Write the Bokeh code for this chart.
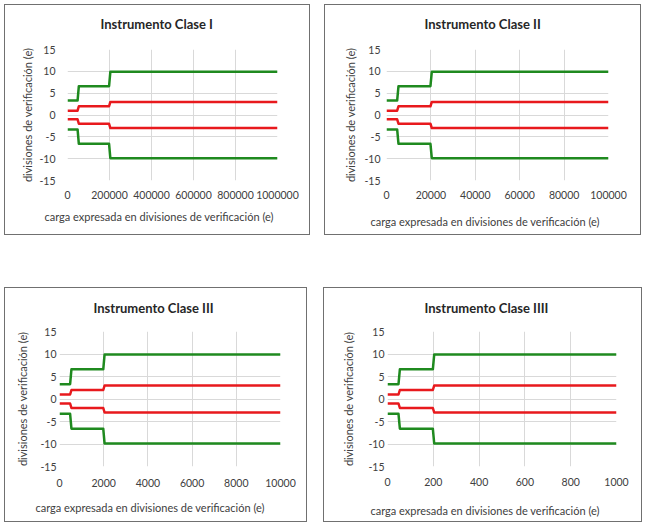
from bokeh.plotting import figure
from bokeh.layouts import column, row
from bokeh.models import Range1d, FixedTicker, Title, LinearAxis
from bokeh.embed import file_html
from bokeh.resources import INLINE

# ---------------- data ----------------
titles = ["Instrumento Clase I", "Instrumento Clase II",
          "Instrumento Clase III", "Instrumento Clase IIII"]

x_max = [1000000, 100000, 10000, 1000]

x_class_I = [0, 48000, 54000, 198000, 204000, 1000000]
x_class_II = [0, 4800, 5400, 19800, 20400, 100000]
x_class_III = [0, 480, 540, 1980, 2040, 10000]
x_class_IIII = [0, 48, 54, 198, 204, 1000]

x_ticks_I = [0, 200000, 400000, 600000, 800000, 1000000]
x_ticks_II = [0, 20000, 40000, 60000, 80000, 100000]
x_ticks_III = [0, 2000, 4000, 6000, 8000, 10000]
x_ticks_IIII = [0, 200, 400, 600, 800, 1000]

x_tick_labels_I = ["0", "200000", "400000", "600000", "800000", "1000000"]
x_tick_labels_II = ["0", "20000", "40000", "60000", "80000", "100000"]
x_tick_labels_III = ["0", "2000", "4000", "6000", "8000", "10000"]
x_tick_labels_IIII = ["0", "200", "400", "600", "800", "1000"]

y_ticks = [-15, -10, -5, 0, 5, 10, 15]
y_tick_labels = ["-15", "-10", "-5", "0", "5", "10", "15"]

green_upper = [3.3, 3.3, 6.6, 6.6, 9.9, 9.9]
red_upper = [1, 1, 2, 2, 3, 3]
red_lower = [-1, -1, -2, -2, -3, -3]
green_lower = [-3.3, -3.3, -6.6, -6.6, -9.9, -9.9]

x_axis_label = "carga expresada en divisiones de verificación (e)"
y_axis_label = "divisiones de verificación (e)"

# ---------------- style ----------------
GREEN = "#1f8a1f"
RED = "#e8191d"
GRID = "#d9d9d9"
TXT = "#404040"
FONT = "Lato"

xs = [x_class_I, x_class_II, x_class_III, x_class_IIII]
xticks = [x_ticks_I, x_ticks_II, x_ticks_III, x_ticks_IIII]
xlabels = [x_tick_labels_I, x_tick_labels_II, x_tick_labels_III, x_tick_labels_IIII]

geom = [
    dict(w=306, h=231, l=63, r=33, t=44, b=55, yls=12, yas=2, xls=10, toff=33, loff=-23, top_gap=14, bot_gap=2),
    dict(w=317, h=231, l=62, r=33, t=45, b=54, yls=6, yas=4, xls=10, toff=38, loff=-16, top_gap=14, bot_gap=7),
    dict(w=303, h=235, l=55, r=27, t=44, b=55, yls=3, yas=8, xls=12, toff=34, loff=-24, top_gap=12, bot_gap=5),
    dict(w=319, h=235, l=64, r=26, t=44, b=56, yls=3, yas=10, xls=11, toff=37, loff=-17, top_gap=12, bot_gap=9),
]


def spacer_axis(gap):
    # an empty axis used only to reserve vertical room between frame and a title
    ax = LinearAxis(ticker=FixedTicker(ticks=[]), axis_label=" ",
                    axis_label_standoff=gap, axis_label_text_font_size="1px",
                    major_label_standoff=0, major_tick_out=0, major_tick_in=0,
                    axis_line_color=None, major_tick_line_color=None,
                    minor_tick_line_color=None)
    return ax


def make_panel(i):
    g = geom[i]
    p = figure(width=g["w"], height=g["h"], title=None,
               x_range=Range1d(0, x_max[i]), y_range=Range1d(-15, 15),
               output_backend="svg", toolbar_location=None,
               min_border_left=g["l"], min_border_right=g["r"],
               min_border_top=g["t"], min_border_bottom=g["b"],
               styles={"box-shadow": "inset 0 0 0 1px #707070"})
    p.outline_line_color = None
    p.background_fill_color = "white"
    p.border_fill_color = None

    p.xaxis.ticker = FixedTicker(ticks=xticks[i])
    p.xaxis.major_label_overrides = {t: s for t, s in zip(xticks[i], xlabels[i])}
    p.yaxis.ticker = FixedTicker(ticks=y_ticks)
    p.yaxis.major_label_overrides = {t: s for t, s in zip(y_ticks, y_tick_labels)}

    for ax in (p.xaxis[0], p.yaxis[0]):
        ax.axis_line_color = None
        ax.major_tick_line_color = None
        ax.minor_tick_line_color = None
        ax.major_tick_in = 0
        ax.major_tick_out = 0
        ax.major_label_text_font = FONT
        ax.major_label_text_font_size = "10.5px"
        ax.major_label_text_color = TXT
    p.yaxis.major_label_standoff = g["yls"]
    p.xaxis.major_label_standoff = g["xls"]

    p.yaxis.axis_label = y_axis_label
    p.yaxis.axis_label_text_font = FONT
    p.yaxis.axis_label_text_font_size = "11px"
    p.yaxis.axis_label_text_font_style = "normal"
    p.yaxis.axis_label_text_color = TXT
    p.yaxis.axis_label_standoff = g["yas"]

    p.xgrid.grid_line_color = GRID
    p.ygrid.grid_line_color = GRID
    p.xgrid.ticker = FixedTicker(ticks=xticks[i])
    p.ygrid.ticker = FixedTicker(ticks=y_ticks)

    for yv, col in ((green_upper, GREEN), (red_upper, RED), (red_lower, RED), (green_lower, GREEN)):
        p.line(xs[i], yv, line_color=col, line_width=2.5, line_join="round")

    p.add_layout(spacer_axis(g["top_gap"]), "above")
    p.add_layout(Title(text=titles[i], align="left", offset=g["toff"], standoff=0,
                       text_font=FONT, text_font_style="bold", text_font_size="13px",
                       text_color="#262626"), "above")
    p.add_layout(spacer_axis(g["bot_gap"]), "below")
    p.add_layout(Title(text=x_axis_label, align="left", offset=g["loff"], standoff=0,
                       text_font=FONT, text_font_style="normal", text_font_size="11px",
                       text_color=TXT), "below")
    return p


panels = [make_panel(i) for i in range(4)]
layout = column(row(panels[0], panels[1], spacing=14),
                row(panels[2], panels[3], spacing=16),
                spacing=52,
                styles={"margin-left": "4px", "margin-top": "4px"})

open("out.html", "w").write(file_html(layout, INLINE))
